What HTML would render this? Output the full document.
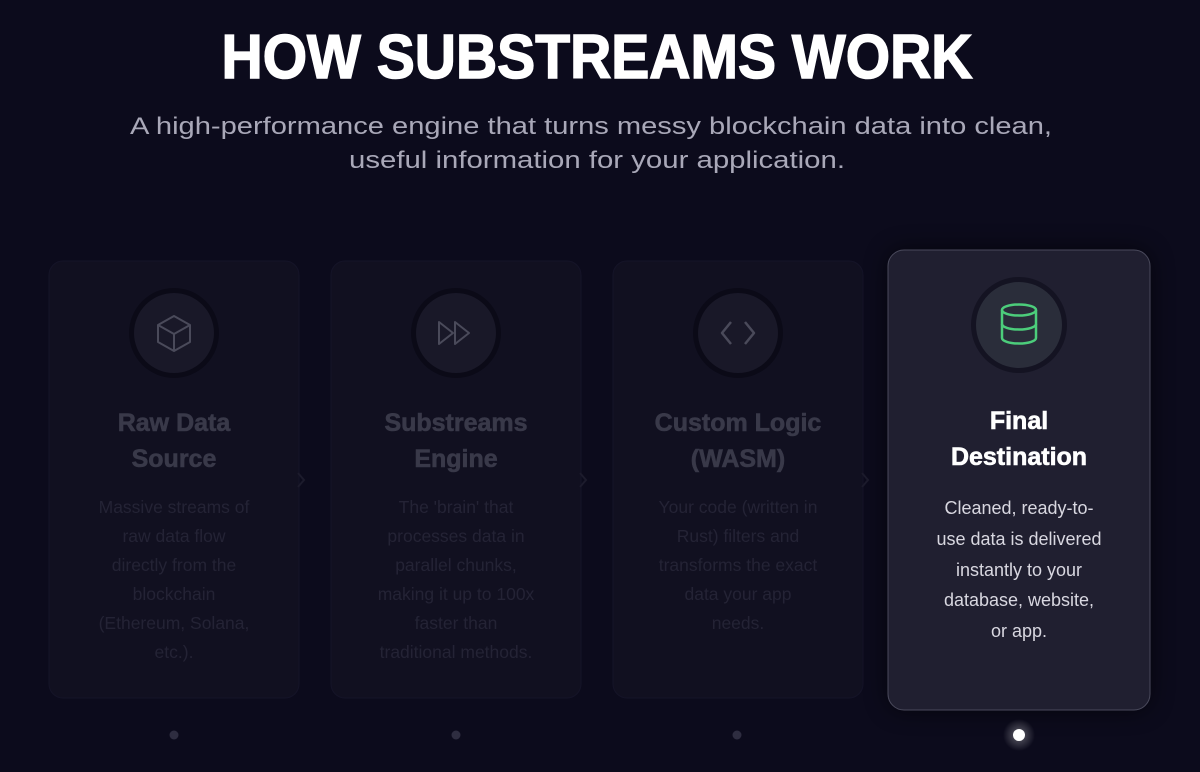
<!DOCTYPE html>
<html><head><meta charset="utf-8"><style>
html,body{margin:0;padding:0;background:#0c0b1c;}
svg{display:block}
text{font-family:"Liberation Sans",sans-serif}
</style></head><body>
<svg width="1200" height="772" viewBox="0 0 1200 772" xmlns="http://www.w3.org/2000/svg">
<defs>
<radialGradient id="glow" cx="50%" cy="50%" r="50%">
<stop offset="0" stop-color="#ffffff" stop-opacity="0.35"/><stop offset="1" stop-color="#ffffff" stop-opacity="0"/>
</radialGradient>
<filter id="sh" x="-30%" y="-30%" width="160%" height="160%"><feGaussianBlur stdDeviation="12"/></filter>
</defs>
<rect width="1200" height="772" fill="#0c0b1c"/>
<text x="597" y="78" text-anchor="middle" font-size="62" font-weight="900" fill="#ffffff" stroke="#ffffff" stroke-width="1.5" textLength="751" lengthAdjust="spacingAndGlyphs">HOW SUBSTREAMS WORK</text>
<text x="591" y="134" text-anchor="middle" font-size="24" fill="#a9a8b8" textLength="922" lengthAdjust="spacingAndGlyphs">A high-performance engine that turns messy blockchain data into clean,</text>
<text x="597" y="168" text-anchor="middle" font-size="24" fill="#a9a8b8" textLength="496" lengthAdjust="spacingAndGlyphs">useful information for your application.</text>

<g>
<rect x="49" y="261" width="250" height="437" rx="14" fill="#111020" stroke="#151428"/>
<rect x="331" y="261" width="250" height="437" rx="14" fill="#111020" stroke="#151428"/>
<rect x="613" y="261" width="250" height="437" rx="14" fill="#111020" stroke="#151428"/>
<circle cx="174" cy="333" r="45" fill="#0b0a17"/><circle cx="174" cy="333" r="40" fill="#191828"/>
<circle cx="456" cy="333" r="45" fill="#0b0a17"/><circle cx="456" cy="333" r="40" fill="#191828"/>
<circle cx="738" cy="333" r="45" fill="#0b0a17"/><circle cx="738" cy="333" r="40" fill="#191828"/>
<g fill="none" stroke="#4a4a5a" stroke-width="2" stroke-linejoin="round">
<path d="M174 316 L190 325 L190 342 L174 351 L158 342 L158 325 Z"/><path d="M158 325 L174 334 L190 325 M174 334 L174 351"/>
<path d="M439 322 L453 333 L439 344 Z M455 322 L469 333 L455 344 Z"/>
<path d="M731 322 L722 333 L731 344 M745 322 L754 333 L745 344" stroke-width="2.5"/>
</g>
<g fill="#393949" font-weight="700" font-size="25" text-anchor="middle" stroke="#393949" stroke-width="0.6">
<text x="174" y="431">Raw Data</text><text x="174" y="467">Source</text>
<text x="456" y="431">Substreams</text><text x="456" y="467">Engine</text>
<text x="738" y="431">Custom Logic</text><text x="738" y="467">(WASM)</text>
</g>
<g fill="#242335" font-size="17.5" text-anchor="middle">
<text x="174" y="513">Massive streams of</text><text x="174" y="542">raw data flow</text><text x="174" y="571">directly from the</text><text x="174" y="600">blockchain</text><text x="174" y="629">(Ethereum, Solana,</text><text x="174" y="658">etc.).</text>
<text x="456" y="513">The 'brain' that</text><text x="456" y="542">processes data in</text><text x="456" y="571">parallel chunks,</text><text x="456" y="600">making it up to 100x</text><text x="456" y="629">faster than</text><text x="456" y="658">traditional methods.</text>
<text x="738" y="513">Your code (written in</text><text x="738" y="542">Rust) filters and</text><text x="738" y="571">transforms the exact</text><text x="738" y="600">data your app</text><text x="738" y="629">needs.</text>
</g>
<g fill="none" stroke="#1c1b2c" stroke-width="2">
<path d="M298 473 L304 480 L298 487"/><path d="M580 473 L586 480 L580 487"/><path d="M862 473 L868 480 L862 487"/>
</g>
</g>

<rect x="888" y="250" width="262" height="460" rx="16" fill="#000000" opacity="0.6" filter="url(#sh)"/>
<rect x="888" y="250" width="262" height="460" rx="16" fill="#201f30" stroke="#4a4a5c" stroke-width="1"/>
<circle cx="1019" cy="325" r="48" fill="#141322"/>
<circle cx="1019" cy="325" r="43" fill="#2a2d3a"/>
<g fill="none" stroke="#4ccd7b" stroke-width="2.5">
<ellipse cx="1019" cy="310" rx="17" ry="5.5"/>
<path d="M1002 310 V338 A17 5.5 0 0 0 1036 338 V310"/>
<path d="M1002 324 A17 5.5 0 0 0 1036 324"/>
</g>
<g fill="#ffffff" font-weight="700" font-size="25" text-anchor="middle" stroke="#ffffff" stroke-width="0.6">
<text x="1019" y="429">Final</text><text x="1019" y="465">Destination</text>
</g>
<g fill="#d8d7e0" font-size="18" text-anchor="middle">
<text x="1019" y="514">Cleaned, ready-to-</text><text x="1019" y="545">use data is delivered</text><text x="1019" y="576">instantly to your</text><text x="1019" y="606">database, website,</text><text x="1019" y="637">or app.</text>
</g>

<circle cx="174" cy="735" r="4.5" fill="#2e2d40"/>
<circle cx="456" cy="735" r="4.5" fill="#2e2d40"/>
<circle cx="737" cy="735" r="4.5" fill="#2e2d40"/>
<circle cx="1019" cy="735" r="16" fill="url(#glow)"/>
<circle cx="1019" cy="735" r="6" fill="#ffffff"/>
</svg>
</body></html>
